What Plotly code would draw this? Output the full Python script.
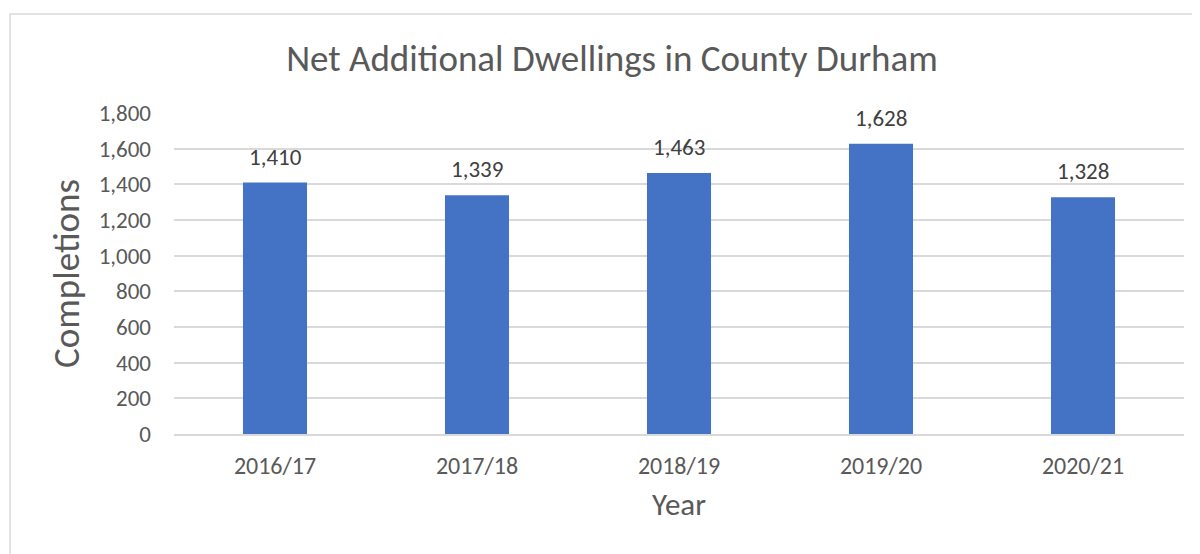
import plotly.graph_objects as go

years = ["2016/17", "2017/18", "2018/19", "2019/20", "2020/21"]
completions = [1410, 1339, 1463, 1628, 1328]
y_ticks = list(range(0, 2000, 200))

FONT = "Carlito, Calibri, Lato, sans-serif"

fig = go.Figure()
fig.add_trace(go.Bar(
    x=years, y=completions,
    marker=dict(color="#4472C4", line=dict(width=0)),
    hoverinfo="x+y",
))

for yr, v in zip(years, completions):
    fig.add_annotation(x=yr, y=v, text=f"{v:,}", showarrow=False,
                       yanchor="bottom", yshift=10,
                       font=dict(family=FONT, size=23, color="#404040"))

fig.update_layout(
    width=1192, height=546,
    margin=dict(l=166, r=16, t=105, b=120),
    paper_bgcolor="white", plot_bgcolor="white",
    bargap=0.683,
    showlegend=False,
    title=dict(text="Net Additional Dwellings in County Durham",
               x=0.5067, xanchor="center", y=0.9084, yanchor="middle",
               font=dict(family=FONT, size=37, color="#595959")),
    font=dict(family=FONT, color="#595959"),
)
fig.update_yaxes(range=[0, 1800], tickvals=y_ticks,
                 ticktext=[f"{t:,}" for t in y_ticks],
                 showgrid=True, gridcolor="#d9d9d9", gridwidth=1.5,
                 zeroline=False, showline=False,
                 tickfont=dict(family=FONT, size=23, color="#595959"),
                 ticklabelstandoff=22,
                 title=dict(text="Completions", standoff=7,
                            font=dict(family=FONT, size=37, color="#595959")))
fig.update_xaxes(showgrid=False, showline=True, linecolor="#d9d9d9", linewidth=1.5,
                 tickfont=dict(family=FONT, size=24, color="#595959"),
                 ticklabelstandoff=9,
                 title=dict(text="Year", standoff=15,
                            font=dict(family=FONT, size=31, color="#595959")))

fig.add_shape(type="rect", xref="paper", yref="paper",
              x0=(2 - 166) / 1010, x1=1.1, y0=-0.6, y1=(426 - 6) / 321,
              line=dict(color="#d9d9d9", width=1.5), fillcolor="rgba(0,0,0,0)",
              layer="below")

fig.write_html("out.html")
